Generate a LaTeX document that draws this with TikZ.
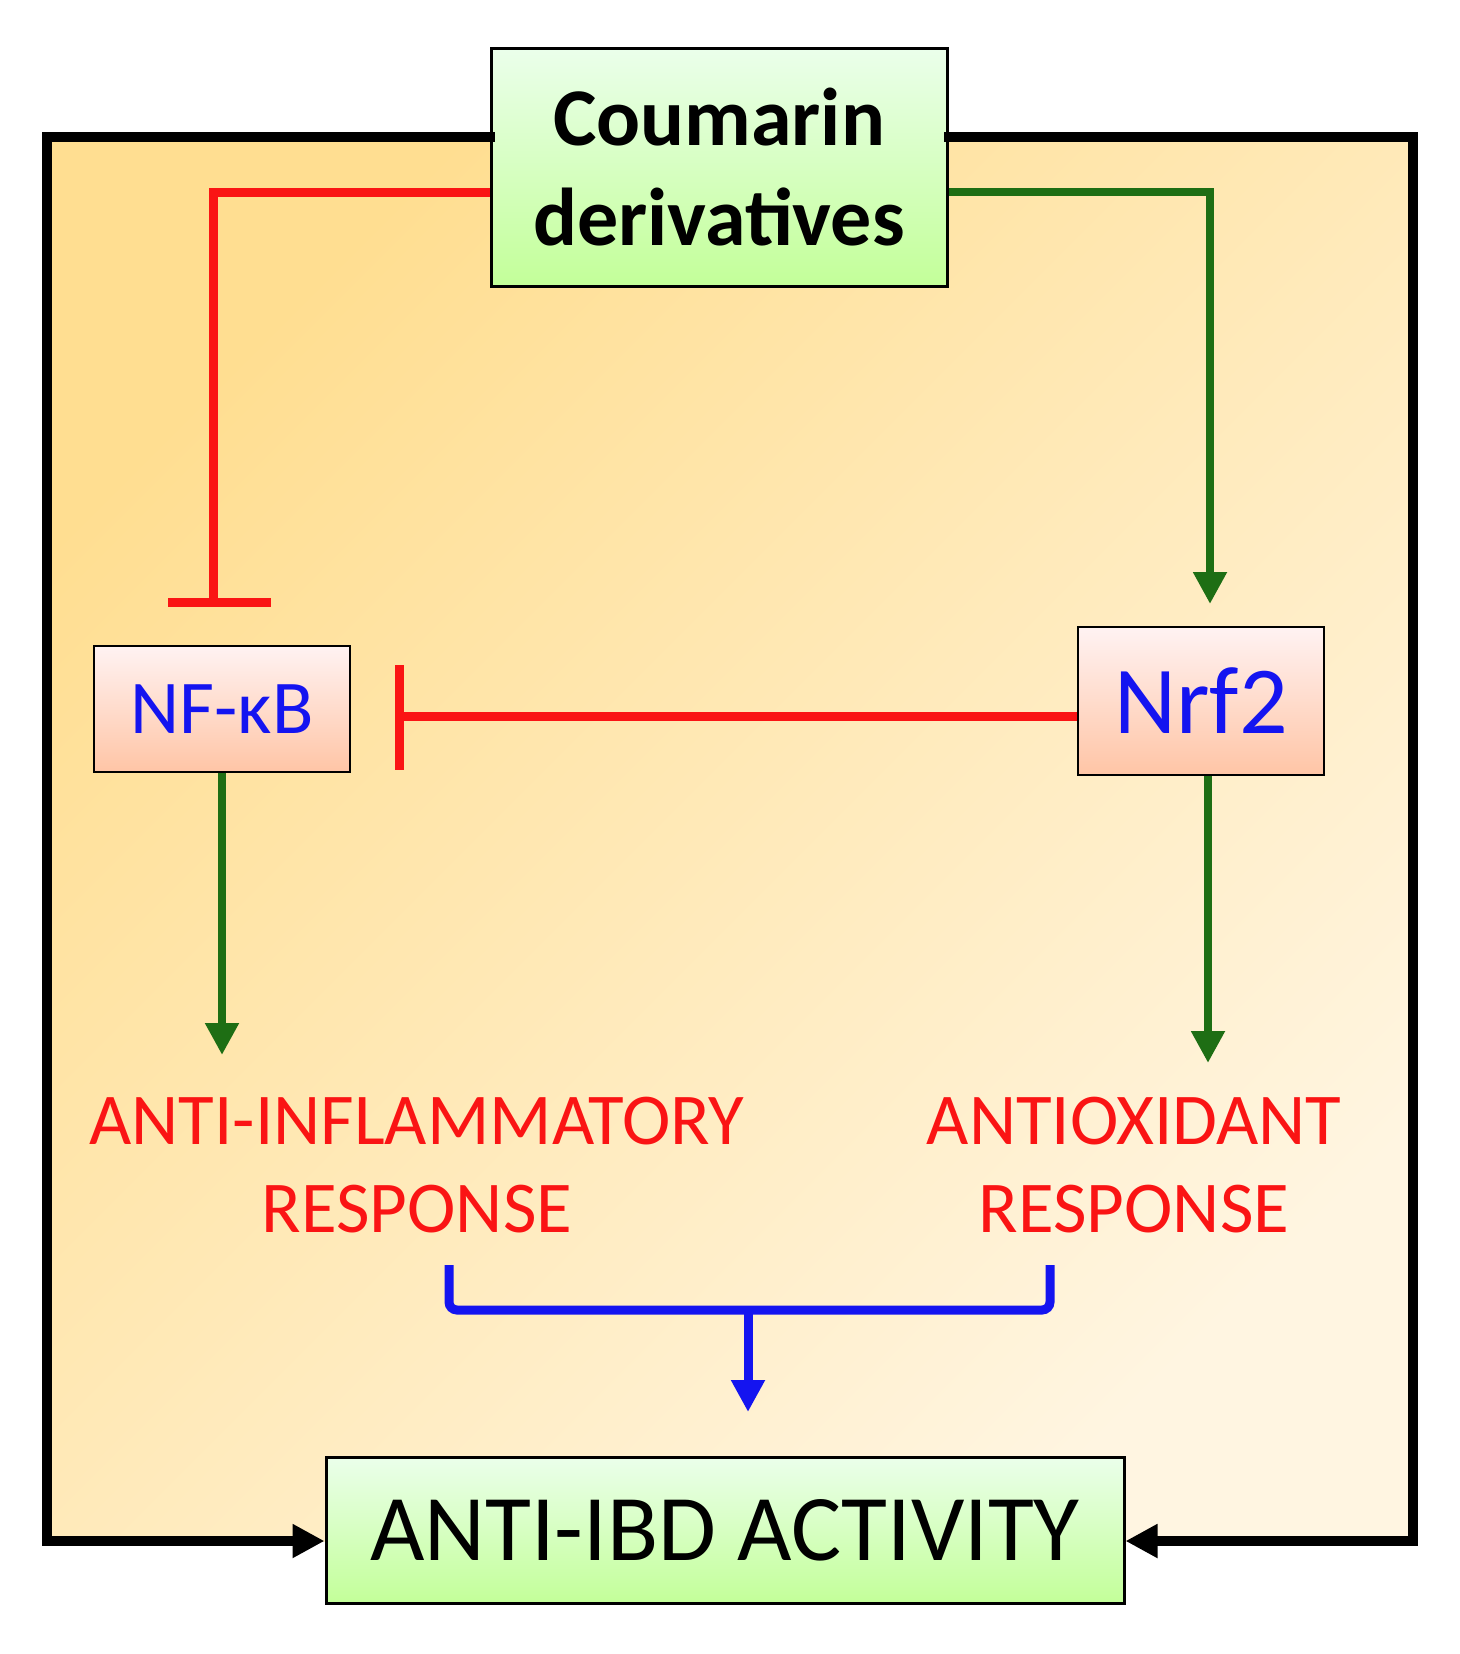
\documentclass[tikz,border=0pt]{standalone}
\usepackage{fontspec}
\setmainfont{Carlito}
\usetikzlibrary{arrows.meta}
\definecolor{gr}{RGB}{30,110,20}
\definecolor{rd}{RGB}{250,20,20}
\definecolor{bl}{RGB}{20,20,240}
\definecolor{bgA}{RGB}{255,222,145}
\definecolor{bgB}{RGB}{255,245,225}
\begin{document}
\begin{tikzpicture}[x=0.5pt,y=-0.5pt,
 gbox/.style={draw=black,line width=1.5pt,top color=green!8!white,bottom color=green!45!lime!40!white,inner sep=0},
 pbox/.style={draw=black,line width=1.2pt,top color=red!5!white,bottom color=red!30!orange!35!white,inner sep=0},
 garr/.style={gr,line width=4pt,-{Triangle[length=16pt,width=16pt]}},
 inh/.style={rd,line width=4.5pt},
 rtxt/.style={rd,font=\fontsize{36.5}{44}\selectfont,align=center}]
\useasboundingbox (0,0) rectangle (1460,1654);
\shade[left color=bgA,right color=bgB,shading angle=45] (47,137) rectangle (1413,1541);
\node[gbox,minimum width=228pt,minimum height=119pt,align=center,font=\bfseries\fontsize{41}{50}\selectfont] (cou) at (719,167) {Coumarin\\derivatives};
\node[pbox,minimum width=128pt,minimum height=63pt,text=bl,font=\fontsize{38}{44}\selectfont] (nf) at (222,709) {NF-κB};
\node[pbox,minimum width=123pt,minimum height=74pt,text=bl,font=\fontsize{48}{54}\selectfont] (nrf) at (1201,701) {Nrf2};
\node[gbox,minimum width=399pt,minimum height=73pt,font=\fontsize{47}{56}\selectfont] (ibd) at (725,1530) {ANTI-IBD ACTIVITY};
\node[rtxt] (ai) at (417,1165) {ANTI-INFLAMMATORY\\RESPONSE};
\node[rtxt] (ao) at (1134,1165) {ANTIOXIDANT\\RESPONSE};
% frame
\draw[line width=5pt,line cap=rect] (cou.west|-0,137) -- (47,137) -- (47,1541);
\draw[line width=5pt,line cap=rect] (cou.east|-0,137) -- (1413,137) -- (1413,1541);
\draw[line width=5pt,-{Triangle[length=16pt,width=16pt]}] (47,1541) -- (ibd.west|-0,1541);
\draw[line width=5pt,-{Triangle[length=16pt,width=16pt]}] (1413,1541) -- (ibd.east|-0,1541);
% top connectors
\coordinate (nfbar) at (213,602);
\draw[inh] (cou.west|-0,192) -| (nfbar);
\draw[inh] (168,602) -- (271,602);
\draw[garr] (cou.east|-0,192) -| (1210,604);
% Nrf2 inhibits NF-kB
\coordinate (mid) at (399,716);
\draw[inh] (nrf.west|-mid) -- (mid);
\draw[inh] (399,665) -- (399,770);
% down arrows
\draw[garr] (nf.south) -- (222,1055);
\draw[garr] (nrf.south-|1208,0) -- (1208,1063);
% bracket
\coordinate (bt) at (748,1412);
\draw[bl,line width=4.5pt,rounded corners=4pt] (449,1265) -- (449,1310) -- (1050,1310) -- (1050,1265);
\draw[bl,line width=4.5pt,-{Triangle[length=16pt,width=16pt]}] (748,1310) -- (bt);
\end{tikzpicture}
\end{document}
